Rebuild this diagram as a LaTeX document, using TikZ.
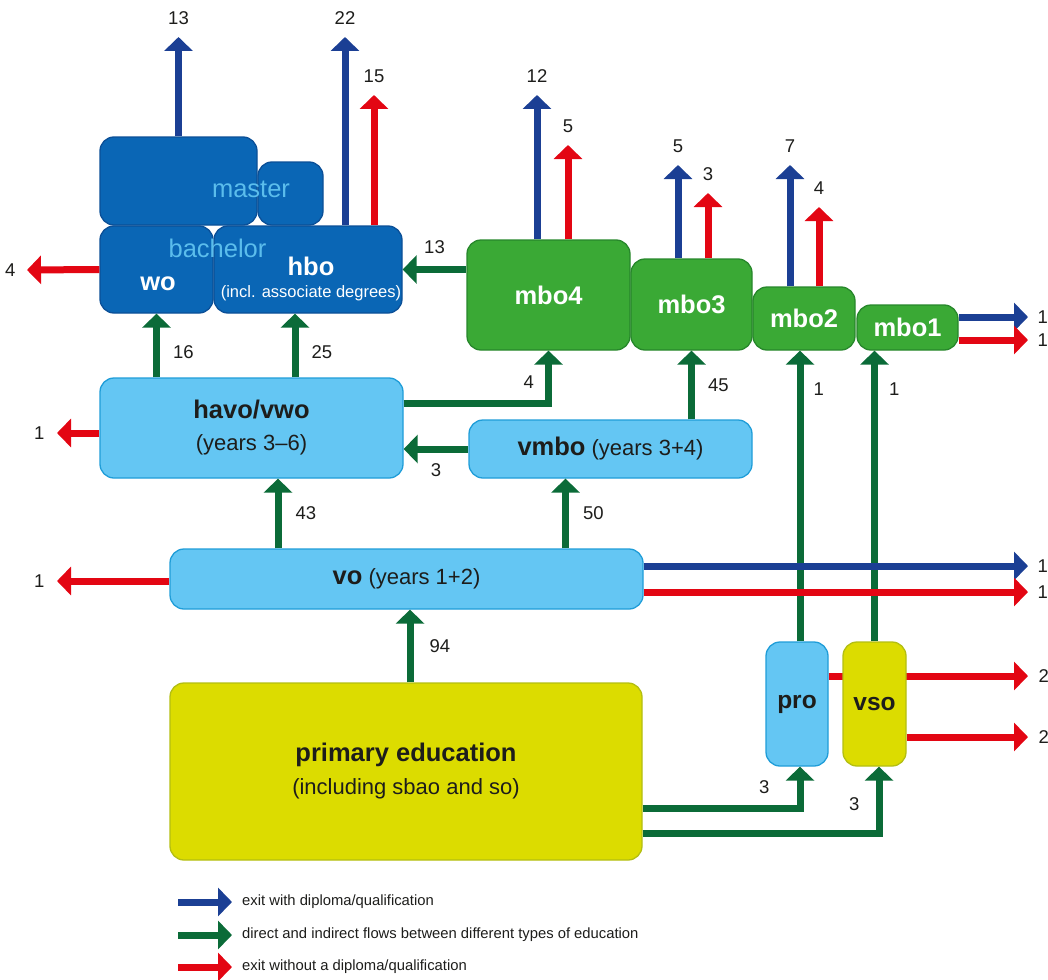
\documentclass[tikz,border=0pt]{standalone}
\usepackage{fontspec}
\setmainfont{Liberation Sans}
\usetikzlibrary{arrows.meta}
\definecolor{diplblue}{HTML}{1B3F94}
\definecolor{flowgreen}{HTML}{0B6B38}
\definecolor{dropred}{HTML}{E30613}
\definecolor{unifill}{HTML}{0A66B5}
\definecolor{uniline}{HTML}{0B4F97}
\definecolor{unitext}{HTML}{5BBDEC}
\definecolor{lbfill}{HTML}{64C6F3}
\definecolor{lbline}{HTML}{1F9DD8}
\definecolor{mbofill}{HTML}{3AA935}
\definecolor{mboline}{HTML}{27872B}
\definecolor{primfill}{HTML}{DCDC00}
\definecolor{primline}{HTML}{B3BE12}
\definecolor{txtdark}{HTML}{1D1D1B}
\tikzset{
	univ/.style={rounded corners=14pt,fill=unifill,draw=uniline,line width=1.3pt,inner sep=0pt},
	lbox/.style={rounded corners=14pt,fill=lbfill,draw=lbline,line width=1.3pt,inner sep=0pt,text=txtdark,align=center,font=\fontsize{22}{32}\selectfont},
	mbox/.style={rounded corners=14pt,fill=mbofill,draw=mboline,line width=1.3pt,inner sep=0pt,text=white,font=\fontsize{25.5}{30}\selectfont\bfseries},
	ybox/.style={rounded corners=14pt,fill=primfill,draw=primline,line width=1.3pt,inner sep=0pt,text=txtdark,align=center,font=\fontsize{22}{33}\selectfont},
	unilabel/.style={text=unitext,inner sep=0pt,font=\fontsize{25.5}{30}\selectfont},
	unititle/.style={text=white,inner sep=0pt,font=\fontsize{25.5}{30}\selectfont\bfseries},
	unisub/.style={text=white,inner sep=0pt,font=\fontsize{16.5}{20}\selectfont},
	num/.style={inner sep=0pt,text=txtdark,font=\fontsize{18.5}{20}\selectfont},
	legtxt/.style={inner xsep=10pt,inner ysep=0pt,anchor=west,text=txtdark,font=\fontsize{14.8}{17}\selectfont},
	exitd/.style={line width=7pt,draw=diplblue,-{Triangle[width=28pt,length=14pt]}},
	flow/.style={line width=7pt,draw=flowgreen,-{Triangle[width=28pt,length=14pt]}},
	exitn/.style={line width=7pt,draw=dropred,-{Triangle[width=28pt,length=14pt]}},
}

\begin{document}
\begin{tikzpicture}[x=1pt,y=-1pt]
\useasboundingbox (0,0) rectangle (1048,979);

% higher education
\node[univ,minimum width=157pt,minimum height=88pt] (mastA) at (178.5,181) {};
\node[univ,minimum width=65pt,minimum height=63pt] (mastB) at (290.5,193.5) {};
\node[univ,minimum width=113pt,minimum height=87pt] (wo) at (156.5,269.5) {};
\node[univ,minimum width=188pt,minimum height=87pt] (hbo) at (308,269.5) {};
\node[unilabel] (mastertxt) at (251,189) {master};
\node[unilabel] (bachtxt) at (217.5,248) {bachelor};
\node[unititle] (wotxt) at (158,284) {wo};
\node[unititle] (hbotxt) at (311,266) {hbo};
\node[unisub] (hbosub) at (311,293.5) {(incl. associate degrees)};

% mbo
\node[mbox,minimum width=163pt,minimum height=110pt] (mbo4) at (548.5,295) {mbo4};
\node[mbox,minimum width=121pt,minimum height=91pt] (mbo3) at (691.5,304.5) {mbo3};
\node[mbox,minimum width=102pt,minimum height=63pt] (mbo2) at (804,318.5) {mbo2};
\node[mbox,minimum width=101pt,minimum height=45pt] (mbo1) at (907.5,327.5) {mbo1};

% secondary
\node[lbox,minimum width=303pt,minimum height=100pt] (havo) at (251.5,428)
  {{\fontsize{25.5}{30}\selectfont\bfseries havo/vwo}\\(years 3--6)};
\node[lbox,minimum width=283pt,minimum height=58pt] (vmbo) at (610.5,449)
  {{\fontsize{25.5}{30}\selectfont\bfseries vmbo} (years 3+4)};
\node[lbox,minimum width=473pt,minimum height=60pt] (vo) at (406.5,579)
  {{\fontsize{25.5}{30}\selectfont\bfseries vo} (years 1+2)};
\node[ybox,minimum width=472pt,minimum height=177pt] (prim) at (406,771.5)
  {{\fontsize{25.5}{30}\selectfont\bfseries primary education}\\(including sbao and so)};

% pro and vso
\node[lbox,minimum width=62pt,minimum height=124pt,font=\fontsize{24.5}{30}\selectfont\bfseries] (pro) at (797,704) {pro};
\coordinate (t2a) at (1028,676);
\draw[exitn] (pro.east |- t2a) -- (t2a) node[num,right=7pt] (l2a) {2};
\node[ybox,minimum width=63pt,minimum height=124pt,font=\fontsize{24.5}{30}\selectfont\bfseries] (vso) at (874.5,704) {vso};

% flows
\draw[flow] (havo.north -| wo.south) -- (wo.south) node[num,pos=.4,right=13pt] (l16) {16};
\draw[flow] ([xshift=-13pt]hbo.south |- havo.north) -- ([xshift=-13pt]hbo.south) node[num,pos=.4,right=13pt] (l25) {25};
\draw[flow] (mbo4.west |- hbo.east) -- (hbo.east) node[num,midway,above=12pt] (l13h) {13};
\draw[flow] ([yshift=25pt]havo.east) -| (mbo4.south) node[num,pos=.7,left=11pt] (l4m) {4};
\draw[flow] (vmbo.west) -- (vmbo.west -| havo.east) node[num,midway,below=11.5pt] (l3v) {3};
\draw[flow] (mbo3.south |- vmbo.north) -- (mbo3.south) node[num,midway,right=13pt] (l45) {45};
\draw[flow] ([xshift=26.5pt]havo.south |- vo.north) -- ([xshift=26.5pt]havo.south) node[num,midway,right=14pt] (l43) {43};
\draw[flow] ([xshift=-45pt]vmbo.south |- vo.north) -- ([xshift=-45pt]vmbo.south) node[num,midway,right=14pt] (l50) {50};
\draw[flow] ([xshift=4pt]prim.north) -- ([xshift=4pt]prim.north |- vo.south) node[num,midway,right=16pt] (l94) {94};
\coordinate (kpro) at (800,808);
\coordinate (kvso) at (879,833);
\draw[flow] (prim.east |- kpro) -| ([xshift=3pt]pro.south) node[num,pos=.75,left=27pt] (l3p) {3};
\draw[flow] (prim.east |- kvso) -| ([xshift=4.5pt]vso.south) node[num,pos=.72,left=16pt] (l3s) {3};
\draw[flow] ([xshift=3pt]pro.north) -- ([xshift=3pt]pro.north |- mbo2.south) node[num,pos=.866,right=10pt] (l1p) {1};
\draw[flow] (vso.north) -- (vso.north |- mbo1.south) node[num,pos=.866,right=11pt] (l1s) {1};

% exits
\coordinate (t13) at (178.5,37);
\coordinate (t22) at (345,37);
\coordinate (t15) at (374,95);
\coordinate (t4w) at (27,270);
\coordinate (t12) at (537,95);
\coordinate (t5a) at (568,145);
\coordinate (t5b) at (678,165);
\coordinate (t3m) at (708,193);
\coordinate (t7) at (790,165);
\coordinate (t4m) at (819,207);
\coordinate (t1a) at (1028,317);
\coordinate (t1b) at (1028,340);
\coordinate (t1h) at (57,433);
\coordinate (t1v) at (57,581);
\coordinate (t1c) at (1028,566);
\coordinate (t1d) at (1028,592);
\coordinate (t2b) at (1028,737);
\draw[exitd] (mastA.north) -- (t13) node[num,above=9pt] (l13) {13};
\draw[exitd] (hbo.north -| t22) -- (t22) node[num,above=9pt] (l22) {22};
\draw[exitn] (hbo.north -| t15) -- (t15) node[num,above=9pt] (l15) {15};
\draw[exitn] (wo.west) -- (t4w) node[num,left=8pt] (l4w) {4};
\draw[exitd] (mbo4.north -| t12) -- (t12) node[num,above=9pt] (l12) {12};
\draw[exitn] (mbo4.north -| t5a) -- (t5a) node[num,above=9pt] (l5a) {5};
\draw[exitd] (mbo3.north -| t5b) -- (t5b) node[num,above=9pt] (l5b) {5};
\draw[exitn] (mbo3.north -| t3m) -- (t3m) node[num,above=9pt] (l3m) {3};
\draw[exitd] (mbo2.north -| t7) -- (t7) node[num,above=9pt] (l7) {7};
\draw[exitn] (mbo2.north -| t4m) -- (t4m) node[num,above=9pt] (l4m2) {4};
\draw[exitd] (mbo1.east |- t1a) -- (t1a) node[num,right=6pt] (l1a) {1};
\draw[exitn] (mbo1.east |- t1b) -- (t1b) node[num,right=6pt] (l1b) {1};
\draw[exitn] (havo.west |- t1h) -- (t1h) node[num,left=9pt] (l1h) {1};
\draw[exitn] (vo.west |- t1v) -- (t1v) node[num,left=9pt] (l1v) {1};
\draw[exitd] (vo.east |- t1c) -- (t1c) node[num,right=6pt] (l1c) {1};
\draw[exitn] (vo.east |- t1d) -- (t1d) node[num,right=6pt] (l1d) {1};
\draw[exitn] (vso.east |- t2b) -- (t2b) node[num,right=7pt] (l2b) {2};

% legend
\node[legtxt] (legd) at (232,902) {exit with diploma/qualification};
\node[legtxt] (legf) at (232,935) {direct and indirect flows between different types of education};
\node[legtxt] (legn) at (232,967) {exit without a diploma/qualification};
\coordinate (legdS) at (178,902);
\coordinate (legfS) at (178,935);
\coordinate (legnS) at (178,967);
\draw[exitd] (legdS) -- (legd.west);
\draw[flow] (legfS) -- (legf.west);
\draw[exitn] (legnS) -- (legn.west);
\end{tikzpicture}
\end{document}
